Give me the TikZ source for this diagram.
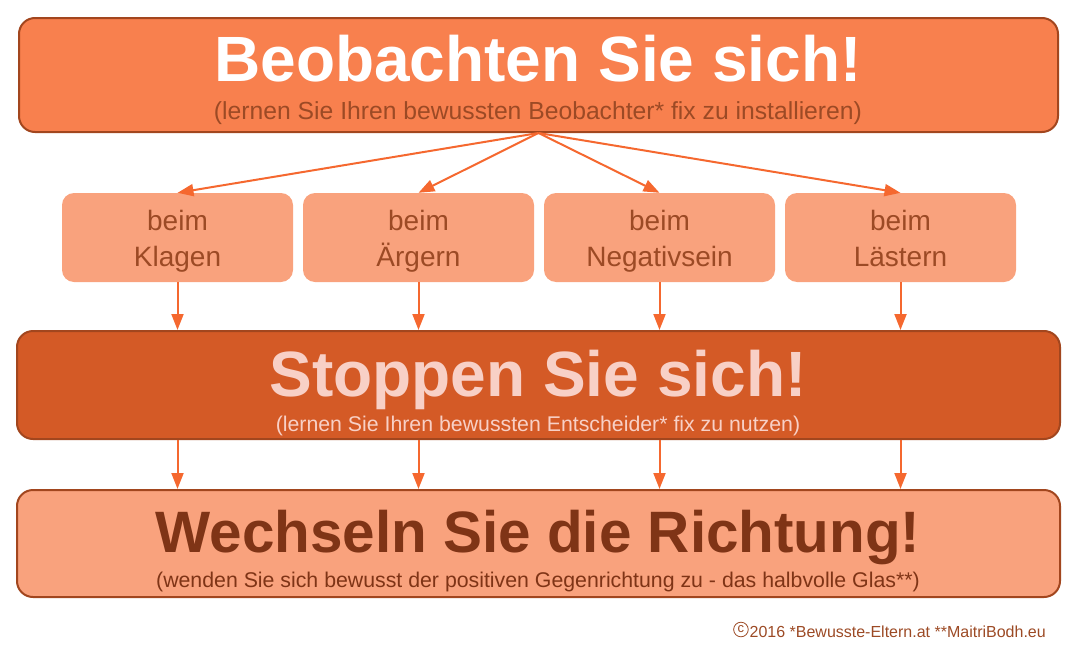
\documentclass[tikz,border=0pt]{standalone}
\usepackage{fontspec}
\setmainfont{Liberation Sans}
\usepackage{tikz}
\usetikzlibrary{arrows.meta, calc}
\definecolor{obsorange}{HTML}{F8804E}
\definecolor{stoporange}{HTML}{D45A26}
\definecolor{lightorange}{HTML}{F9A27D}
\definecolor{rimbrown}{HTML}{A2461E}
\definecolor{textbrown}{HTML}{9C4A25}
\definecolor{darkbrown}{HTML}{7F3416}
\definecolor{palepink}{HTML}{F8D0C6}
\definecolor{arroworange}{HTML}{F5682F}
\newcommand{\twolines}[2]{\rule{0pt}{27pt}#1\\#2\rule[-6pt]{0pt}{6pt}}

\begin{document}
\begin{tikzpicture}[x=1pt, y=-1pt,
  bigbox/.style={draw=rimbrown, line width=2pt, rounded corners=16pt, minimum width=1041pt},
  smallbox/.style={fill=lightorange, rounded corners=12pt, minimum width=231pt, minimum height=89pt,
    align=center, text=textbrown, font=\fontsize{28}{36}\selectfont},
  titletext/.style={anchor=base, inner sep=0pt, font=\fontsize{64}{70}\selectfont\bfseries},
  subtext/.style={anchor=base, inner sep=0pt, font=\fontsize{21.3}{24}\selectfont},
  flow/.style={draw=arroworange, line width=2pt, -{Triangle[length=16pt,width=12pt]}}]
\useasboundingbox (0,0) rectangle (1076,653);

% three main steps
\node[bigbox, fill=obsorange, minimum width=1039pt, minimum height=114pt] (beob) at (538.5,75) {};
\node[titletext, text=white] (beobtitle) at (538,81) {Beobachten Sie sich!};
\node[subtext, text=textbrown, font=\fontsize{24.7}{28}\selectfont] (beobsub) at (538,119) {(lernen Sie Ihren bewussten Beobachter* fix zu installieren)};

\node[bigbox, fill=stoporange, minimum width=1043pt, minimum height=108pt] (stop) at (538.5,385) {};
\node[titletext, text=palepink] (stoptitle) at (538,396) {Stoppen Sie sich!};
\node[subtext, text=palepink] (stopsub) at (538,431) {(lernen Sie Ihren bewussten Entscheider* fix zu nutzen)};

\node[bigbox, fill=lightorange, minimum width=1043pt, minimum height=107pt] (wechsel) at (538.5,543.5) {};
\node[titletext, text=darkbrown, font=\fontsize{58.4}{64}\selectfont\bfseries] (wechseltitle) at (538,552) {Wechseln Sie die Richtung!};
\node[subtext, text=darkbrown] (wechselsub) at (538,587) {(wenden Sie sich bewusst der positiven Gegenrichtung zu - das halbvolle Glas**)};

% situations
\node[smallbox] (klagen) at (177.5,237.5) {\twolines{beim}{Klagen}};
\node[smallbox] (aergern) at (418.5,237.5) {\twolines{beim}{Ärgern}};
\node[smallbox] (negativ) at (659.5,237.5) {\twolines{beim}{Negativsein}};
\node[smallbox] (laestern) at (900.5,237.5) {\twolines{beim}{Lästern}};

\foreach \s in {klagen, aergern, negativ, laestern} {
  \draw[flow] (beob.south) -- (\s.north);
  \draw[flow] (\s.south) -- (\s.south |- stop.north);
  \draw[flow] (\s.south |- stop.south) -- (\s.south |- wechsel.north);
}

% copyright line, circled c drawn by hand
\node[anchor=base east, inner sep=0pt, text=textbrown, font=\fontsize{16}{18}\selectfont] (copy) at (1046,637)
  {\hspace{16pt}2016 *Bewusste-Eltern.at **MaitriBodh.eu};
\coordinate (copyring) at ($(copy.base west)+(7.5,-7.5)$);
\draw[textbrown, line width=0.8pt] (copyring) circle[radius=7.3pt];
\node[text=textbrown, inner sep=0pt, font=\fontsize{13}{13}\selectfont] (copyc) at (copyring) {c};
\end{tikzpicture}
\end{document}
